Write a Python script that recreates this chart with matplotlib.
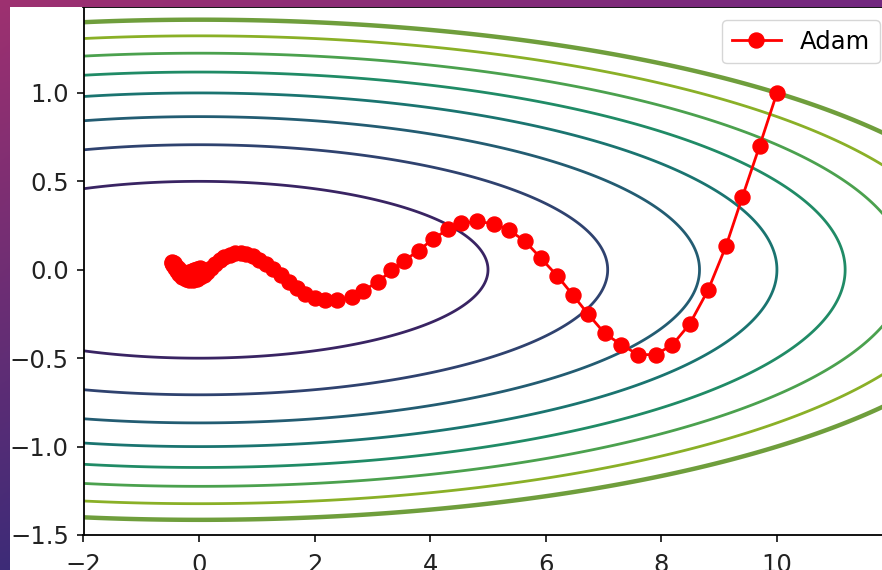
import numpy as np
import matplotlib
matplotlib.use('Agg')
import matplotlib.pyplot as plt

# Adam path (start at (10, 1), spirals into the origin)
adam_x = [10.00, 9.70, 9.40, 9.12, 8.81, 8.49, 8.19, 7.90, 7.60, 7.31,
          7.02, 6.73, 6.47, 6.20, 5.91, 5.64, 5.36, 5.10, 4.81, 4.54,
          4.31, 4.05, 3.80, 3.55, 3.33, 3.10, 2.84, 2.64, 2.38, 2.18,
          2.00, 1.84, 1.69, 1.55, 1.41, 1.28, 1.16, 1.04, 0.93, 0.82,
          0.72, 0.62, 0.53, 0.44, 0.36, 0.28, 0.21, 0.14, 0.08, 0.02,
          -0.04, -0.10, -0.17, -0.23, -0.29, -0.34, -0.39, -0.42, -0.45, -0.46,
          -0.46, -0.44, -0.41, -0.37, -0.32, -0.26, -0.20, -0.14, -0.08, -0.03,
          0.01, 0.03, 0.03, 0.01, -0.03, -0.08, -0.13, -0.17]
adam_y = [1.00, 0.70, 0.41, 0.135, -0.114, -0.307, -0.425, -0.48, -0.48, -0.425,
          -0.36, -0.25, -0.143, -0.035, 0.067, 0.162, 0.225, 0.26, 0.274, 0.262,
          0.229, 0.175, 0.108, 0.052, -0.004, -0.067, -0.118, -0.152, -0.171, -0.171,
          -0.160, -0.135, -0.102, -0.068, -0.032, 0.003, 0.035, 0.058, 0.076, 0.088,
          0.093, 0.092, 0.085, 0.072, 0.057, 0.035, 0.012, -0.010, -0.028, -0.042,
          -0.052, -0.058, -0.058, -0.052, -0.040, -0.025, -0.006, 0.012, 0.027, 0.040,
          0.045, 0.040, 0.026, 0.010, -0.008, -0.026, -0.038, -0.044, -0.042, -0.032,
          -0.018, -0.005, 0.004, 0.008, 0.006, 0.000, -0.008, -0.014]

# contour levels of f(x, y) = x**2 / 100 + y**2
levels = [0.25, 0.5, 0.75, 1.0, 1.25, 1.5, 1.75]
outer_level = 2.0
x_scale = 100.0

x_ticks = [-2, 0, 2, 4, 6, 8, 10]
y_ticks = [-1.5, -1.0, -0.5, 0.0, 0.5, 1.0]

W, H = 882, 570
fig = plt.figure(figsize=(W / 100, H / 100), dpi=100)
fig.patch.set_facecolor('white')

ax = fig.add_axes([83.5 / W, 35 / H, 809 / W, 528 / H])

x = np.arange(-2, 12.01, 0.01)
y = np.arange(-1.5, 1.51, 0.005)
X, Y = np.meshgrid(x, y)
Z = X ** 2 / x_scale + Y ** 2

cmap = plt.get_cmap('viridis')
cols = [tuple(np.array(cmap(l / 2.0)[:3]) * 0.8) for l in levels]
ax.contour(X, Y, Z, levels=levels, colors=cols, linewidths=2.0)
ax.contour(X, Y, Z, levels=[outer_level], colors=['#6f9e3c'], linewidths=3.2)

ax.plot(adam_x, adam_y, 'o-', color='red', lw=2, markersize=10.8, label='Adam')

ax.set_xlim(-2, 12)
ax.set_ylim(-1.5, 1.486)
ax.set_xticks(x_ticks)
ax.set_yticks(y_ticks)
ax.tick_params(labelsize=17.5, length=5, width=1.3, pad=5.5, colors='#222222')
ax.tick_params(axis='x', pad=8)
for s in ax.spines.values():
    s.set_linewidth(1.3)

ax.legend(loc='upper right', bbox_to_anchor=(880 / W, 1 - 20 / H),
          bbox_transform=fig.transFigure, borderaxespad=0, fontsize=17.5,
          handlelength=2.0)

# purple slide border on the left and top
u = np.linspace(0, 1, W)[None, :]
v = np.linspace(0, 1, H)[:, None]
tl = np.array([0.62, 0.19, 0.44])
bl = np.array([0.24, 0.17, 0.47])
tr = np.array([0.45, 0.16, 0.50])
rgb = tl + (bl - tl) * v[..., None] + (tr - tl) * u[..., None]
rgb = np.clip(rgb, 0, 1)
alpha = np.zeros((H, W))
alpha[:, :10] = 1
alpha[:7, :] = 1
img = np.dstack([rgb, alpha])
bg = fig.add_axes([0, 0, 1, 1])
bg.imshow(img, aspect='auto', interpolation='nearest')
bg.axis('off')

fig.savefig('out.png', dpi=100)
